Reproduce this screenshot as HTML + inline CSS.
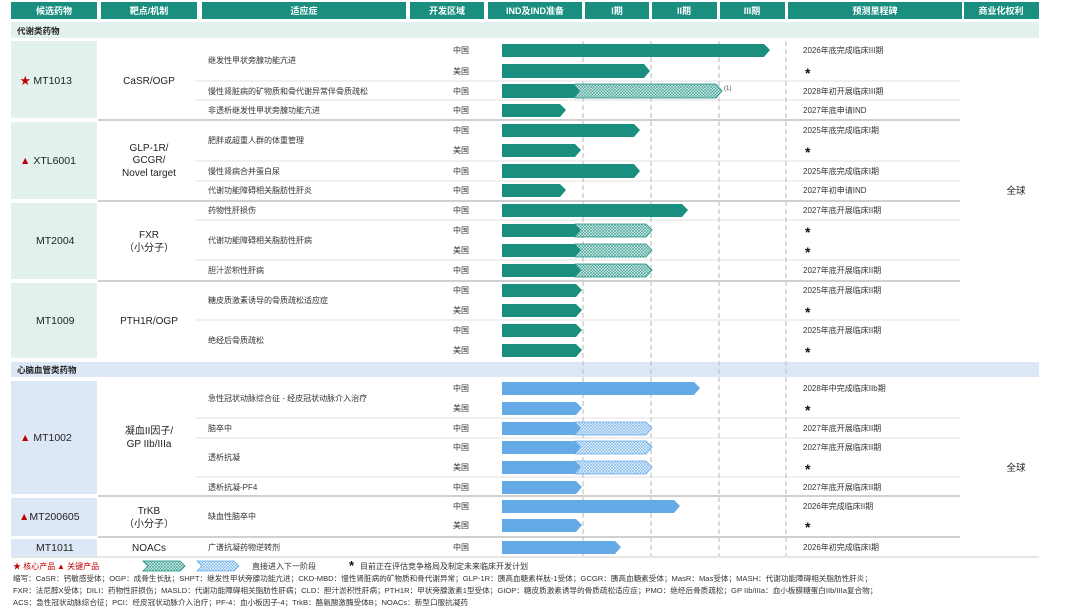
<!DOCTYPE html>
<html><head><meta charset="utf-8"><style>
html,body{margin:0;padding:0;background:#fff;width:1080px;height:608px;overflow:hidden}
svg text{font-family:"Liberation Sans","Noto Sans CJK SC",sans-serif}
</style></head><body>
<svg width="1080" height="608" viewBox="0 0 1080 608" xmlns="http://www.w3.org/2000/svg">
<defs>
<pattern id="ht" width="3" height="3" patternUnits="userSpaceOnUse"><rect width="3" height="3" fill="#d6ece8"/><path d="M0,3L3,0M0,0L3,3" stroke="#3a9e92" stroke-width="0.6"/></pattern>
<pattern id="hb" width="3" height="3" patternUnits="userSpaceOnUse"><rect width="3" height="3" fill="#e6f1fc"/><path d="M0,3L3,0M0,0L3,3" stroke="#7ab6ea" stroke-width="0.6"/></pattern>
</defs>
<g fill="#1a8f80">
<rect x="11" y="2" width="86" height="17"/><rect x="101" y="2" width="96" height="17"/><rect x="202" y="2" width="204" height="17"/><rect x="410" y="2" width="74" height="17"/><rect x="488" y="2" width="94" height="17"/><rect x="585" y="2" width="64" height="17"/><rect x="652" y="2" width="65" height="17"/><rect x="720" y="2" width="65" height="17"/><rect x="788" y="2" width="174" height="17"/><rect x="964" y="2" width="75" height="17"/>
</g>
<g fill="#fff" font-size="9" font-weight="bold" text-anchor="middle">
<text x="54" y="14">候选药物</text><text x="149" y="14">靶点/机制</text><text x="304" y="14">适应症</text><text x="447" y="14">开发区域</text><text x="535" y="14">IND及IND准备</text><text x="617" y="14">I期</text><text x="684" y="14">II期</text><text x="752" y="14">III期</text><text x="875" y="14">预测里程碑</text><text x="1001" y="14">商业化权利</text>
</g>
<rect x="11" y="22" width="1028" height="16" fill="#e3f1ee"/>
<text x="17" y="34" font-size="8.5" font-weight="bold" fill="#222">代谢类药物</text>
<rect x="11" y="362" width="1028" height="15" fill="#dde8f6"/>
<text x="17" y="373" font-size="8.5" font-weight="bold" fill="#222">心脑血管类药物</text>
<g fill="#e3f1ee"><rect x="11" y="41" width="86" height="77"/><rect x="11" y="122" width="86" height="77"/><rect x="11" y="203" width="86" height="76"/><rect x="11" y="283" width="86" height="75"/></g>
<g fill="#dde8f6"><rect x="11" y="381" width="86" height="113"/><rect x="11" y="498" width="86" height="38"/><rect x="11" y="539" width="86" height="17"/></g>
<g stroke="#d0d0d0" stroke-width="2"><line x1="98" y1="120" x2="960" y2="120"/><line x1="98" y1="201" x2="960" y2="201"/><line x1="98" y1="281" x2="960" y2="281"/><line x1="98" y1="496" x2="960" y2="496"/><line x1="98" y1="537" x2="960" y2="537"/></g>
<g stroke="#e2e2e2" stroke-width="1"><line x1="195" y1="81" x2="960" y2="81"/><line x1="195" y1="100" x2="960" y2="100"/><line x1="195" y1="161" x2="960" y2="161"/><line x1="195" y1="181" x2="960" y2="181"/><line x1="195" y1="220" x2="960" y2="220"/><line x1="195" y1="260" x2="960" y2="260"/><line x1="195" y1="320" x2="960" y2="320"/><line x1="195" y1="418" x2="960" y2="418"/><line x1="195" y1="438" x2="960" y2="438"/><line x1="195" y1="477" x2="960" y2="477"/><line x1="11" y1="557" x2="1039" y2="557" stroke="#ccc"/></g>
<g stroke="#c4c4c4" stroke-width="1.2" stroke-dasharray="5,3"><line x1="583" y1="41" x2="583" y2="556"/><line x1="651" y1="41" x2="651" y2="556"/><line x1="719" y1="41" x2="719" y2="556"/><line x1="786" y1="41" x2="786" y2="556"/></g>
<g font-size="10.5" fill="#222">
<text x="20" y="84"><tspan fill="#c00000">★</tspan> MT1013</text>
<text x="20" y="164"><tspan fill="#c00000">▲</tspan> XTL6001</text>
<text x="36" y="244">MT2004</text>
<text x="36" y="324">MT1009</text>
<text x="20" y="441"><tspan fill="#c00000">▲</tspan> MT1002</text>
<text x="19" y="520"><tspan fill="#c00000">▲</tspan>MT200605</text>
<text x="36" y="551">MT1011</text>
</g>
<g font-size="10" fill="#222" text-anchor="middle">
<text x="149" y="84">CaSR/OGP</text>
<text x="149" y="151">GLP-1R/</text><text x="149" y="163">GCGR/</text><text x="149" y="176">Novel target</text>
<text x="149" y="238">FXR</text><text x="149" y="251">（小分子）</text>
<text x="149" y="324">PTH1R/OGP</text>
<text x="149" y="434">凝血II因子/</text><text x="149" y="447">GP IIb/IIIa</text>
<text x="149" y="514">TrKB</text><text x="149" y="527">（小分子）</text>
<text x="149" y="551">NOACs</text>
</g>
<g font-size="8" fill="#333">
<text x="208" y="63">继发性甲状旁腺功能亢进</text>
<text x="208" y="94">慢性肾脏病的矿物质和骨代谢异常伴骨质疏松</text>
<text x="208" y="113">非透析继发性甲状旁腺功能亢进</text>
<text x="208" y="143">肥胖或超重人群的体重管理</text>
<text x="208" y="174">慢性肾病合并蛋白尿</text>
<text x="208" y="193">代谢功能障碍相关脂肪性肝炎</text>
<text x="208" y="213">药物性肝损伤</text>
<text x="208" y="243">代谢功能障碍相关脂肪性肝病</text>
<text x="208" y="273">胆汁淤积性肝病</text>
<text x="208" y="303">糖皮质激素诱导的骨质疏松适应症</text>
<text x="208" y="343">绝经后骨质疏松</text>
<text x="208" y="401">急性冠状动脉综合征 - 经皮冠状动脉介入治疗</text>
<text x="208" y="431">脑卒中</text>
<text x="208" y="460">透析抗凝</text>
<text x="208" y="490">透析抗凝-PF4</text>
<text x="208" y="519">缺血性脑卒中</text>
<text x="208" y="550">广谱抗凝药物逆转剂</text>
</g>
<g font-size="8" fill="#333" text-anchor="middle">
<text x="461" y="53">中国</text><text x="461" y="74">美国</text><text x="461" y="94">中国</text><text x="461" y="113">中国</text>
<text x="461" y="133">中国</text><text x="461" y="153">美国</text><text x="461" y="174">中国</text><text x="461" y="193">中国</text>
<text x="461" y="213">中国</text><text x="461" y="233">中国</text><text x="461" y="253">美国</text><text x="461" y="273">中国</text>
<text x="461" y="293">中国</text><text x="461" y="313">美国</text><text x="461" y="333">中国</text><text x="461" y="353">美国</text>
<text x="461" y="391">中国</text><text x="461" y="411">美国</text><text x="461" y="431">中国</text><text x="461" y="450">中国</text><text x="461" y="470">美国</text><text x="461" y="490">中国</text>
<text x="461" y="509">中国</text><text x="461" y="528">美国</text><text x="461" y="550">中国</text>
</g>
<g fill="#1a8f80">
<polygon points="502,44 764,44 770,50 764,57 502,57"/>
<polygon points="502,64 644,64 650,71 644,78 502,78"/>
<polygon points="575,84 716,84 722,91 716,98 575,98" fill="url(#ht)" stroke="#1a8f80" stroke-width="0.8"/>
<polygon points="502,84 574,84 580,91 574,98 502,98"/>
<polygon points="502,104 560,104 566,110 560,117 502,117"/>
<polygon points="502,124 634,124 640,130 634,137 502,137"/>
<polygon points="502,144 575,144 581,150 575,157 502,157"/>
<polygon points="502,164 634,164 640,171 634,178 502,178"/>
<polygon points="502,184 560,184 566,190 560,197 502,197"/>
<polygon points="502,204 682,204 688,210 682,217 502,217"/>
<polygon points="575,224 646,224 652,230 646,237 575,237" fill="url(#ht)" stroke="#1a8f80" stroke-width="0.8"/>
<polygon points="502,224 575,224 581,230 575,237 502,237"/>
<polygon points="575,244 646,244 652,250 646,257 575,257" fill="url(#ht)" stroke="#1a8f80" stroke-width="0.8"/>
<polygon points="502,244 575,244 581,250 575,257 502,257"/>
<polygon points="575,264 646,264 652,270 646,277 575,277" fill="url(#ht)" stroke="#1a8f80" stroke-width="0.8"/>
<polygon points="502,264 575,264 581,270 575,277 502,277"/>
<polygon points="502,284 576,284 582,290 576,297 502,297"/>
<polygon points="502,304 576,304 582,310 576,317 502,317"/>
<polygon points="502,324 576,324 582,330 576,337 502,337"/>
<polygon points="502,344 576,344 582,350 576,357 502,357"/>
</g>
<text x="724" y="90" font-size="6" fill="#444">(1)</text>
<g fill="#64aae6">
<polygon points="502,382 694,382 700,388 694,395 502,395"/>
<polygon points="502,402 576,402 582,408 576,415 502,415"/>
<polygon points="575,422 646,422 652,428 646,435 575,435" fill="url(#hb)" stroke="#64aae6" stroke-width="0.8"/>
<polygon points="502,422 575,422 581,428 575,435 502,435"/>
<polygon points="575,441 646,441 652,447 646,454 575,454" fill="url(#hb)" stroke="#64aae6" stroke-width="0.8"/>
<polygon points="502,441 575,441 581,447 575,454 502,454"/>
<polygon points="575,461 646,461 652,467 646,474 575,474" fill="url(#hb)" stroke="#64aae6" stroke-width="0.8"/>
<polygon points="502,461 575,461 581,467 575,474 502,474"/>
<polygon points="502,481 576,481 582,487 576,494 502,494"/>
<polygon points="502,500 674,500 680,506 674,513 502,513"/>
<polygon points="502,519 576,519 582,525 576,532 502,532"/>
<polygon points="502,541 615,541 621,547 615,554 502,554"/>
</g>
<g font-size="8" fill="#333">
<text x="803" y="53">2026年底完成临床III期</text>
<text x="803" y="94">2028年初开展临床III期</text>
<text x="803" y="113">2027年底申请IND</text>
<text x="803" y="133">2025年底完成临床I期</text>
<text x="803" y="174">2025年底完成临床I期</text>
<text x="803" y="193">2027年初申请IND</text>
<text x="803" y="213">2027年底开展临床II期</text>
<text x="803" y="273">2027年底开展临床II期</text>
<text x="803" y="293">2025年底开展临床II期</text>
<text x="803" y="333">2025年底开展临床II期</text>
<text x="803" y="391">2028年中完成临床IIb期</text>
<text x="803" y="431">2027年底开展临床II期</text>
<text x="803" y="450">2027年底开展临床II期</text>
<text x="803" y="490">2027年底开展临床II期</text>
<text x="803" y="509">2026年完成临床II期</text>
<text x="803" y="550">2026年初完成临床I期</text>
</g>
<g font-size="14" fill="#111" font-weight="bold">
<text x="805" y="78">*</text><text x="805" y="157">*</text><text x="805" y="237">*</text><text x="805" y="257">*</text><text x="805" y="317">*</text><text x="805" y="357">*</text><text x="805" y="415">*</text><text x="805" y="474">*</text><text x="805" y="532">*</text>
</g>
<g font-size="9.5" fill="#222" text-anchor="middle"><text x="1016" y="194">全球</text><text x="1016" y="471">全球</text></g>
<g font-size="8">
<text x="13" y="569" fill="#c00000">★ 核心产品</text>
<text x="57" y="569" fill="#c00000">▲ 关键产品</text>
<polygon points="143,561 180,561 185,566 180,571 143,571 148,566" fill="url(#ht)" stroke="#1a8f80" stroke-width="0.8"/>
<polygon points="197,561 234,561 239,566 234,571 197,571 202,566" fill="url(#hb)" stroke="#64aae6" stroke-width="0.8"/>
<text x="252" y="569" fill="#333">直接进入下一阶段</text>
<text x="349" y="570" fill="#111" font-size="13" font-weight="bold">*</text>
<text x="360" y="569" fill="#333">目前正在评估竞争格局及制定未来临床开发计划</text>
</g>
<g font-size="7.6" fill="#333">
<text x="13" y="581">缩写：CaSR：钙敏感受体；OGP：成骨生长肽；SHPT：继发性甲状旁腺功能亢进；CKD-MBD：慢性肾脏病的矿物质和骨代谢异常；GLP-1R：胰高血糖素样肽-1受体；GCGR：胰高血糖素受体；MasR：Mas受体；MASH：代谢功能障碍相关脂肪性肝炎；</text>
<text x="13" y="593">FXR：法尼醇X受体；DILI：药物性肝损伤；MASLD：代谢功能障碍相关脂肪性肝病；CLD：胆汁淤积性肝病；PTH1R：甲状旁腺激素1型受体；GIOP：糖皮质激素诱导的骨质疏松适应症；PMO：绝经后骨质疏松；GP IIb/IIIa：血小板膜糖蛋白IIb/IIIa复合物；</text>
<text x="13" y="605">ACS：急性冠状动脉综合征；PCI：经皮冠状动脉介入治疗；PF-4：血小板因子-4；TrkB：酪氨酸激酶受体B；NOACs：新型口服抗凝药</text>
</g>
</svg>
</body></html>
